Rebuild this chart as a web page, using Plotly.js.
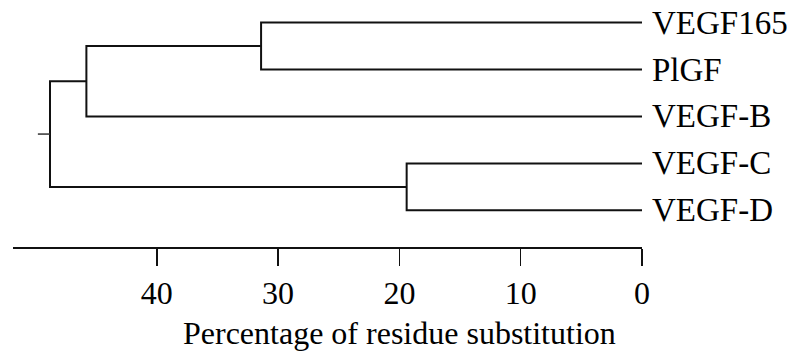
<!DOCTYPE html>
<html>
<head>
<meta charset="utf-8">
<script src="https://cdn.plot.ly/plotly-3.0.1.min.js"></script>
<style>html,body{margin:0;padding:0;background:#fff;}#chart{width:787px;height:351px;}</style>
</head>
<body>
<div id="chart"></div>
<script>
// Leaves, top to bottom
const leaves = ['VEGF165', 'PlGF', 'VEGF-B', 'VEGF-C', 'VEGF-D'];
// Merges: [childA, childB, height]; indices >= leaves.length refer to earlier merges
const mergeA = [0, 1];
const mergeB = [5, 2];
const mergeC = [3, 4];
const mergeRoot = [6, 7];
const mergeHeights = [31.4, 45.8, 19.4, 48.8];
const rootStubEnd = 49.8;
const tickValues = [0, 10, 20, 30, 40];
const tickLabels = ['0', '10', '20', '30', '40'];
const axisTitle = 'Percentage of residue substitution';

const merges = [mergeA, mergeB, mergeC, mergeRoot];
const nodeY = leaves.map((_, i) => i);
const nodeH = leaves.map(() => 0);
const xs = [], ys = [];
merges.forEach((m, k) => {
  const [a, b] = m;
  const h = mergeHeights[k];
  const ya = nodeY[a], yb = nodeY[b];
  xs.push(nodeH[a], h, h, nodeH[b], null);
  ys.push(ya, ya, yb, yb, null);
  nodeY.push((ya + yb) / 2);
  nodeH.push(h);
});
const rootIdx = nodeY.length - 1;

const font = 'Liberation Serif, Times New Roman, serif';
const traces = [
  {x: xs, y: ys, mode: 'lines', line: {color: '#111', width: 2}, hoverinfo: 'skip', showlegend: false},
  {x: [nodeH[rootIdx], rootStubEnd], y: [nodeY[rootIdx], nodeY[rootIdx]], mode: 'lines',
   line: {color: '#333', width: 1.5}, hoverinfo: 'skip', showlegend: false}
];

const annotations = leaves.map((name, i) => ({
  x: 0, y: i, xref: 'x', yref: 'y', text: name, showarrow: false,
  xanchor: 'left', yanchor: 'middle', xshift: 8,
  font: {family: font, size: 33, color: '#000'}
}));
annotations.push({
  x: 20, y: -0.35, xref: 'x', yref: 'paper', text: axisTitle, showarrow: false,
  xanchor: 'center', yanchor: 'middle',
  font: {family: font, size: 32, color: '#000'}
});

const layout = {
  width: 787, height: 351,
  margin: {l: 13, r: 145, t: 0, b: 104},
  paper_bgcolor: '#fff', plot_bgcolor: '#fff',
  xaxis: {
    range: [51.85, 0], showgrid: false, zeroline: false,
    showline: true, linecolor: '#111', linewidth: 1.5,
    ticks: 'outside', ticklen: 17, tickwidth: 1.5, tickcolor: '#111',
    tickvals: tickValues, ticktext: tickLabels,
    tickfont: {family: font, size: 32, color: '#000'},
    fixedrange: true
  },
  yaxis: {
    range: [4.78, -0.48], visible: false, showgrid: false, zeroline: false, fixedrange: true
  },
  annotations: annotations,
  showlegend: false
};

Plotly.newPlot('chart', traces, layout, {staticPlot: true, displayModeBar: false});
</script>
</body>
</html>
